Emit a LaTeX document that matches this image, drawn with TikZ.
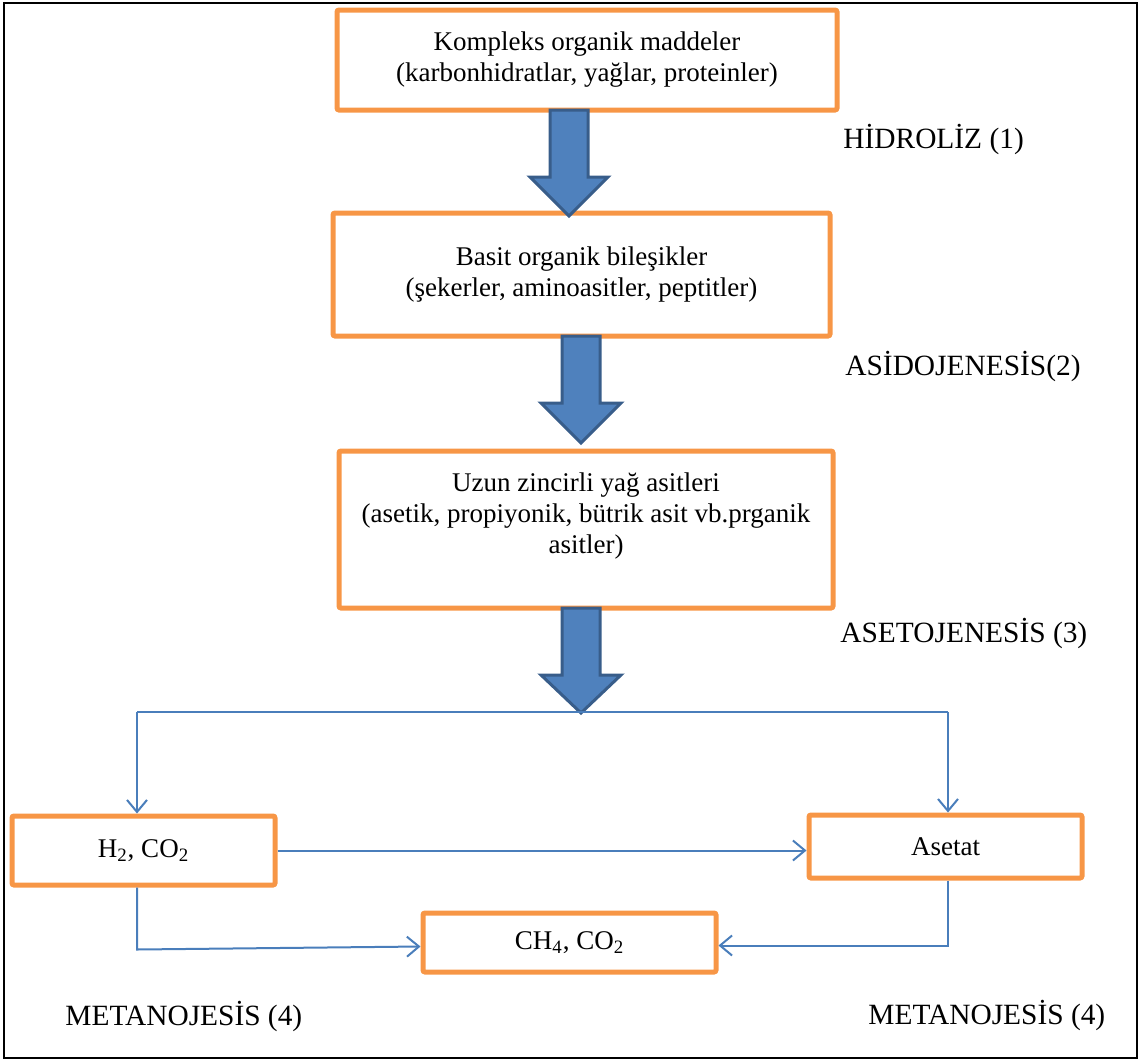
\documentclass[tikz,border=0pt]{standalone}
\usepackage{fontspec}
\setmainfont{Liberation Serif}
\usetikzlibrary{arrows.meta,calc}
\definecolor{boxorange}{HTML}{F79646}
\definecolor{flowblue}{HTML}{4A7EBB}
\definecolor{fatfill}{HTML}{4F81BD}
\definecolor{fatedge}{HTML}{385D8A}

\begin{document}
\begin{tikzpicture}[x=0.5pt,y=-0.5pt,
  stage/.style={draw=boxorange,line width=2.5pt,rectangle,rounded corners=1pt,inner sep=2pt,align=center,font=\fontsize{13.5}{15.5}\selectfont},
  phase/.style={font=\fontsize{14.7}{17}\selectfont,anchor=base west,inner sep=0pt},
  fatarrow/.style={fill=fatfill,draw=fatedge,line width=1.5pt,line join=miter},
  flow/.style={draw=flowblue,line width=1pt},
  flowarrow/.style={flow,-{Straight Barb[length=6pt,width=10pt]}}]
\useasboundingbox (0,0) rectangle (1141,1061);
\draw[line width=1.2pt] (4,3) rectangle (1137,1058);

\node[stage,minimum width=250pt,minimum height=50pt] (kompleks) at (587,60) {Kompleks organik maddeler\\(karbonhidratlar, yağlar, proteinler)};
\node[stage,minimum width=248.5pt,minimum height=61.5pt] (basit) at (581.5,274.5) {Basit organik bileşikler\\(şekerler, aminoasitler, peptitler)};
\node[stage,minimum width=247pt,minimum height=78.5pt,text depth=16pt] (uzun) at (586,529.5) {Uzun zincirli yağ asitleri\\(asetik, propiyonik, bütrik asit vb.prganik\\asitler)};

\node[stage,minimum width=131.5pt,minimum height=34.5pt] (gas) at (143.5,850.5) {H\textsubscript{2}, CO\textsubscript{2}};
\node[stage,minimum width=136.5pt,minimum height=31.5pt] (asetat) at (945.5,846.5) {Asetat};
\node[stage,minimum width=146.5pt,minimum height=29.5pt] (metan) at (569.5,942.5) {CH\textsubscript{4}, CO\textsubscript{2}};

\node[phase] (hidroliz) at (843,148) {HİDROLİZ (1)};
\node[phase] (asido) at (845,375) {ASİDOJENESİS(2)};
\node[phase] (aseto) at (840,642) {ASETOJENESİS (3)};
\node[phase] (metaleft) at (65,1025) {METANOJESİS (4)};
\node[phase] (metaright) at (868,1024) {METANOJESİS (4)};

\draw[fatarrow] (550,110) -- (588,110) -- (588,177) -- (608,177) -- (569,216) -- (530,177) -- (550,177) -- cycle;
\draw[fatarrow] (562,336) -- (600,336) -- (600,403) -- (621,403) -- (581,443) -- (541,403) -- (562,403) -- cycle;
\draw[fatarrow] (562,608) -- (600,608) -- (600,675) -- (621,675) -- (581,713) -- (541,675) -- (562,675) -- cycle;

\coordinate (left) at (137,712);
\coordinate (right) at (948,712);
\draw[flow] (left) -- (right);
\draw[flowarrow] (left) -- (left |- gas.north);
\draw[flowarrow] (right) -- (right |- asetat.north);
\draw[flowarrow] (gas.east) -- (gas.east -| asetat.west);
\draw[flowarrow] (left |- gas.south) -- ($(left |- metan.west)+(0,7)$) -- ($(metan.west)+(0,4)$);
\draw[flowarrow] (right |- asetat.south) -- ($(right |- metan.east)+(0,3)$) -- ($(metan.east)+(0,3)$);
\end{tikzpicture}
\end{document}
